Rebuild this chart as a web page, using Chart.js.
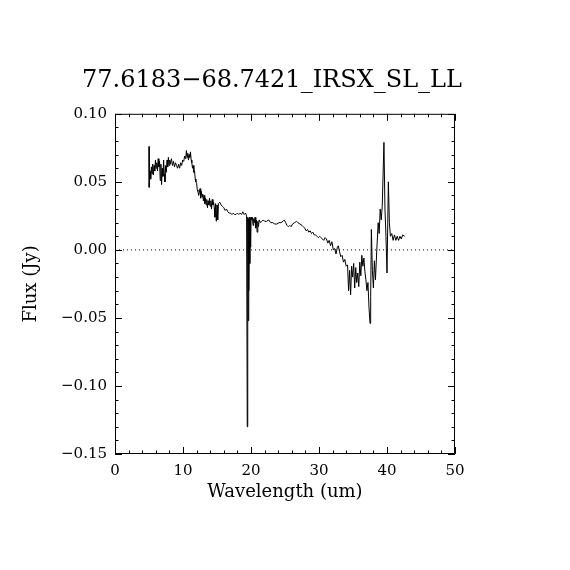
<!DOCTYPE html>
<html>
<head>
<meta charset="utf-8">
<script src="https://cdn.jsdelivr.net/npm/chart.js@4.4.1/dist/chart.umd.min.js"></script>
<style>
  body { margin: 0; background: #fff; }
  canvas { display: block; }
</style>
</head>
<body>
<canvas id="spec" width="570" height="570"></canvas>
<script>
// spectrum
const wavelength = [
  5.00, 5.03, 5.15, 5.25, 5.35, 5.45, 5.55, 5.65, 5.75, 5.85, 5.95, 6.05, 6.15, 6.25, 6.35, 6.45,
  6.55, 6.65, 6.75, 6.85, 6.95, 7.05, 7.15, 7.25, 7.35, 7.45, 7.55, 7.65, 7.75, 7.85, 7.95, 8.05,
  8.15, 8.30, 8.45, 8.60, 8.75, 8.90, 9.05, 9.20, 9.35, 9.50, 9.65, 9.80, 9.95, 10.1, 10.25, 10.4,
  10.5, 10.6, 10.7, 10.8, 10.9, 11.0, 11.1, 11.2, 11.3, 11.4, 11.5, 11.6, 11.7, 11.8, 11.9, 12.0,
  12.1, 12.2, 12.3, 12.4, 12.5, 12.6, 12.7, 12.8, 12.9, 13.0, 13.1, 13.2, 13.3, 13.4, 13.5, 13.6,
  13.7, 13.8, 13.9, 14.0, 14.1, 14.2, 14.3, 14.4, 14.5, 14.6, 14.7, 14.8, 14.9, 15.0, 15.1, 15.2,
  15.4, 15.6, 15.8, 16.0, 16.2, 16.4, 16.6, 16.8, 17.0, 17.2, 17.4, 17.6, 17.8, 18.0, 18.2, 18.4,
  18.6, 18.8, 19.0, 19.2, 19.35, 19.45, 19.52, 19.58, 19.64, 19.70, 19.76, 19.82, 19.88, 19.94, 20.0, 20.1,
  20.2, 20.3, 20.4, 20.5, 20.6, 20.7, 20.8, 20.9, 21.0, 21.1, 21.2, 21.4, 21.6, 21.8, 22.0, 22.3,
  22.6, 22.9, 23.2, 23.5, 23.8, 24.1, 24.4, 24.7, 24.9, 25.1, 25.3, 25.5, 25.7, 25.9, 26.1, 26.4,
  26.7, 26.9, 27.2, 27.5, 27.7, 27.9, 28.1, 28.3, 28.5, 28.7, 28.9, 29.1, 29.3, 29.5, 29.7, 29.9,
  30.1, 30.3, 30.5, 30.7, 30.9, 31.1, 31.3, 31.5, 31.7, 31.9, 32.1, 32.3, 32.5, 32.7, 32.85, 33.0,
  33.2, 33.4, 33.6, 33.8, 34.0, 34.2, 34.35, 34.5, 34.65, 34.8, 34.95, 35.1, 35.25, 35.4, 35.55, 35.7,
  35.85, 36.0, 36.15, 36.3, 36.45, 36.6, 36.75, 36.9, 37.05, 37.2, 37.35, 37.5, 37.6, 37.7, 37.85, 38.0,
  38.15, 38.3, 38.5, 38.7, 38.85, 39.0, 39.15, 39.3, 39.55, 39.7, 39.85, 40.0, 40.2, 40.35, 40.5, 40.7,
  40.9, 41.1, 41.3, 41.5, 41.7, 41.9, 42.1, 42.3, 42.6
];
const flux = [
  0.076, 0.046, 0.058, 0.052, 0.061, 0.056, 0.063, 0.055, 0.062, 0.058, 0.066, 0.060, 0.064, 0.058, 0.067, 0.061,
  0.065, 0.051, 0.063, 0.048, 0.060, 0.054, 0.066, 0.056, 0.050, 0.062, 0.057, 0.066, 0.061, 0.068, 0.062, 0.066,
  0.063, 0.067, 0.062, 0.065, 0.061, 0.064, 0.062, 0.060, 0.063, 0.060, 0.064, 0.062, 0.066, 0.065, 0.069, 0.067,
  0.073, 0.068, 0.071, 0.066, 0.070, 0.068, 0.072, 0.066, 0.064, 0.060, 0.062, 0.057, 0.058, 0.052, 0.050, 0.049,
  0.044, 0.043, 0.040, 0.042, 0.045, 0.038, 0.043, 0.039, 0.041, 0.036, 0.040, 0.034, 0.038, 0.033, 0.037, 0.031,
  0.036, 0.033, 0.038, 0.032, 0.036, 0.030, 0.037, 0.033, 0.035, 0.031, 0.024, 0.034, 0.021, 0.033, 0.022, 0.034,
  0.035, 0.033, 0.032, 0.031, 0.029, 0.030, 0.028, 0.027, 0.027, 0.026, 0.027, 0.026, 0.026, 0.027, 0.026, 0.027,
  0.026, 0.028, 0.026, 0.027, 0.025, -0.130, 0.024, -0.052, 0.023, -0.030, 0.024, -0.010, 0.023, 0.002, 0.024, 0.022,
  0.024, 0.018, 0.023, 0.020, 0.024, 0.016, 0.022, 0.013, 0.021, 0.017, 0.022, 0.020, 0.021, 0.022, 0.021, 0.021,
  0.022, 0.020, 0.020, 0.019, 0.019, 0.020, 0.020, 0.021, 0.022, 0.020, 0.018, 0.017, 0.018, 0.017, 0.019, 0.020,
  0.021, 0.020, 0.019, 0.018, 0.017, 0.016, 0.014, 0.015, 0.013, 0.014, 0.012, 0.013, 0.011, 0.011, 0.010, 0.009,
  0.010, 0.009, 0.008, 0.007, 0.009, 0.008, 0.005, 0.007, 0.003, 0.006, 0.000, 0.001, -0.003, 0.002, 0.003, -0.001,
  -0.005, -0.004, -0.009, -0.007, -0.012, -0.011, -0.030, -0.015, -0.033, -0.012, -0.020, -0.010, -0.028, -0.013, -0.024, -0.017,
  -0.027, -0.009, -0.019, -0.004, -0.012, -0.006, -0.016, -0.022, -0.030, -0.024, -0.042, -0.054, -0.034, 0.015, -0.015, -0.028,
  -0.008, -0.022, 0.000, 0.020, 0.012, 0.030, 0.022, 0.032, 0.079, 0.030, 0.010, -0.017, 0.050, 0.020, 0.010, 0.012,
  0.007, 0.011, 0.007, 0.010, 0.007, 0.010, 0.008, 0.011, 0.010
];

const xTicks = [0, 10, 20, 30, 40, 50];
const yTicks = [-0.15, -0.10, -0.05, 0.00, 0.05, 0.10];

const serif = '"DejaVu Serif", serif';

function fmtY(v) {
  if (Math.abs(v) < 1e-9) return '0.00';
  const s = Math.abs(v).toFixed(2);
  return v < 0 ? '\u2212' + s : s;
}

// IDL-like box: frame plus inward major/minor ticks on all four sides
const boxTicks = {
  id: 'boxTicks',
  afterDatasetsDraw(chart) {
    const { ctx, chartArea: a, scales: { x, y } } = chart;
    ctx.save();
    ctx.strokeStyle = '#000';
    ctx.lineWidth = 1;
    ctx.beginPath();
    ctx.rect(a.left + 0.5, a.top + 0.5, a.right - a.left - 1, a.bottom - a.top - 1);
    for (let v = 0; v <= 50; v += 2) {
      const px = Math.round(x.getPixelForValue(v)) + 0.5;
      const len = v % 10 === 0 ? 7 : 3.5;
      ctx.moveTo(px, a.bottom); ctx.lineTo(px, a.bottom - len);
      ctx.moveTo(px, a.top); ctx.lineTo(px, a.top + len);
    }
    for (let i = -15; i <= 10; i++) {
      const py = Math.round(y.getPixelForValue(i / 100)) + 0.5;
      const len = i % 5 === 0 ? 7 : 3.5;
      ctx.moveTo(a.left, py); ctx.lineTo(a.left + len, py);
      ctx.moveTo(a.right, py); ctx.lineTo(a.right - len, py);
    }
    ctx.stroke();
    ctx.restore();
  }
};

new Chart(document.getElementById('spec'), {
  type: 'scatter',
  data: {
    datasets: [
      {
        data: wavelength.map((w, i) => ({ x: w, y: flux[i] })),
        showLine: true,
        borderColor: '#000',
        borderWidth: 1,
        pointRadius: 0,
        tension: 0
      },
      {
        data: [{ x: 0, y: 0 }, { x: 50, y: 0 }],
        showLine: true,
        borderColor: '#000',
        borderWidth: 1,
        borderDash: [1, 3],
        pointRadius: 0
      }
    ]
  },
  options: {
    responsive: false,
    devicePixelRatio: 1,
    animation: false,
    layout: { padding: { left: 0, right: 26, top: 0, bottom: 0 } },
    plugins: {
      legend: { display: false },
      tooltip: { enabled: false },
      title: {
        display: true,
        text: '77.6183\u221268.7421_IRSX_SL_LL',
        color: '#000',
        font: { family: serif, size: 24, weight: 'normal' },
        padding: { top: 66, bottom: 19 }
      }
    },
    scales: {
      x: {
        type: 'linear',
        min: 0,
        max: 50,
        afterFit(s) { s.height = 116; },
        afterBuildTicks(s) { s.ticks = xTicks.map(v => ({ value: v })); },
        grid: { display: false, drawTicks: false },
        border: { display: false },
        ticks: { color: '#000', padding: 8, font: { family: serif, size: 15 }, maxRotation: 0 },
        title: {
          display: true,
          text: 'Wavelength (um)',
          color: '#000',
          font: { family: serif, size: 18 },
          padding: { top: 0, bottom: 67 }
        }
      },
      y: {
        type: 'linear',
        min: -0.15,
        max: 0.10,
        afterFit(s) { s.width = 115; },
        afterBuildTicks(s) { s.ticks = yTicks.map(v => ({ value: v })); },
        grid: { display: false, drawTicks: false },
        border: { display: false },
        ticks: { color: '#000', padding: 8, font: { family: serif, size: 15 }, callback: fmtY },
        title: {
          display: true,
          text: 'Flux (Jy)',
          color: '#000',
          font: { family: serif, size: 18 },
          padding: { top: 21, bottom: 0 }
        }
      },
      // empty right-hand axis, only reserves the margin right of the box
      yRight: {
        type: 'linear',
        position: 'right',
        min: -0.15,
        max: 0.10,
        afterFit(s) { s.width = 89; },
        grid: { display: false, drawTicks: false },
        border: { display: false },
        ticks: { display: false }
      }
    }
  },
  plugins: [boxTicks]
});
</script>
</body>
</html>
